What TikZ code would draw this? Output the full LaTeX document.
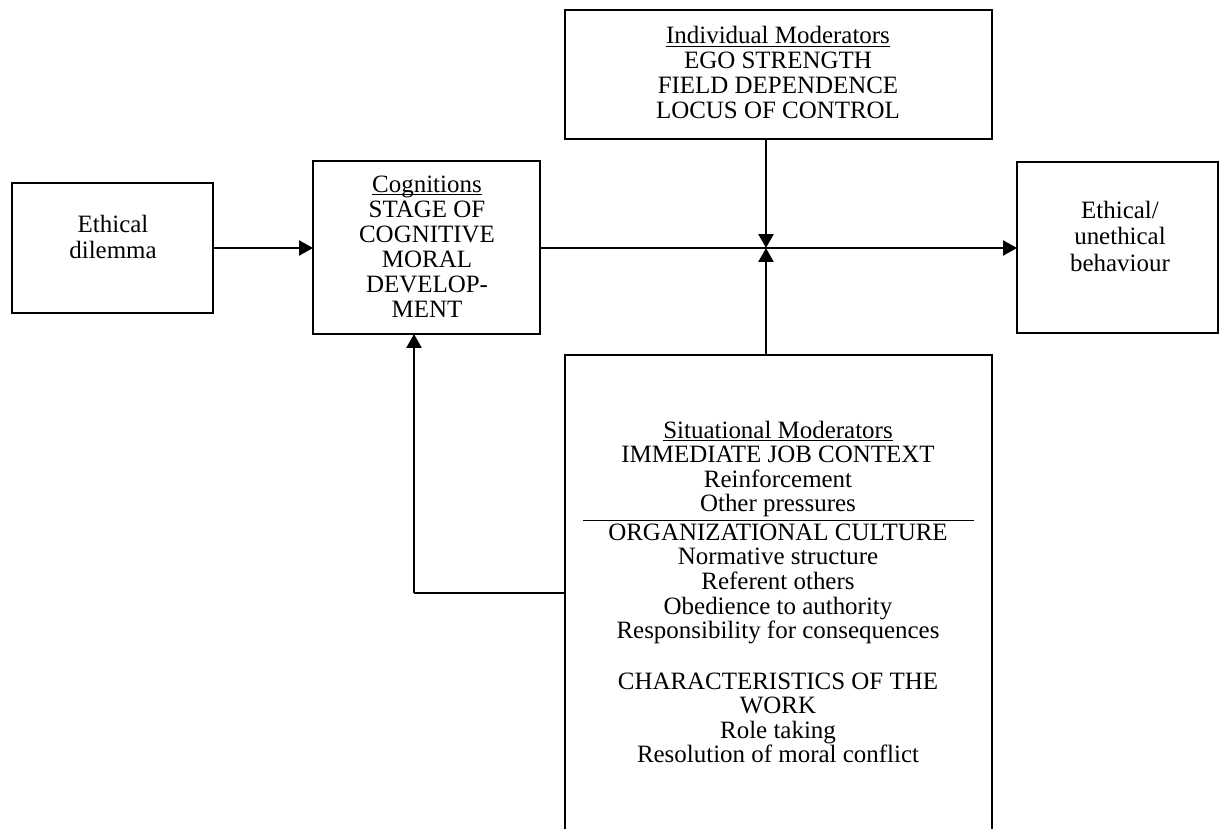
\documentclass[tikz,border=0pt]{standalone}
\usepackage{fontspec}
\setmainfont{Liberation Serif}
\usetikzlibrary{arrows.meta}
% underline set close to the baseline, as in the headings
\newcommand\headline[1]{\begingroup\setbox0\hbox{#1}\rlap{\rule[-1.6pt]{\wd0}{0.5pt}}\box0\endgroup}
\begin{document}
\begin{tikzpicture}[x=0.02cm,y=-0.02cm,
  box/.style={draw,line width=1.5pt,inner sep=0pt,outer sep=0pt},
  txt/.style={anchor=base,inner sep=0pt,font=\fontsize{14.2}{15}\selectfont},
  conn/.style={line width=1.4pt,-{Triangle[length=0.28cm,width=0.3cm]}},
  fbline/.style={line width=0.6pt},
  rule/.style={line width=0.6pt}]
\useasboundingbox (0,0) rectangle (1220,828);
\begin{scope}
\clip (0,0) rectangle (1220,828);

% boxes
\node[box,minimum width=4.02cm,minimum height=2.6cm] (dil) at (112.5,248) {};
\node[box,minimum width=4.54cm,minimum height=3.46cm] (cog) at (426.5,247.5) {};
\node[box,minimum width=8.54cm,minimum height=2.58cm] (ind) at (778.5,74.5) {};
\node[box,minimum width=4.02cm,minimum height=3.42cm] (beh) at (1117.5,247.5) {};
\node[box,minimum width=8.54cm,minimum height=11cm] (sit) at (778.5,630) {};

% texts
\foreach \ln [count=\i from 0] in {Ethical,dilemma}
  \node[txt] (dil-\i) at (113,232+26*\i) {\ln};
\foreach \ln [count=\i from 0] in {{\headline{Cognitions}},STAGE OF,COGNITIVE,MORAL,DEVELOP-,MENT}
  \node[txt] (cog-\i) at (427,192+25*\i) {\ln};
\foreach \ln [count=\i from 0] in {{\headline{Individual Moderators}},EGO STRENGTH,FIELD DEPENDENCE,LOCUS OF CONTROL}
  \node[txt] (ind-\i) at (778,44+24.7*\i) {\ln};
\foreach \ln [count=\i from 0] in {Ethical/,unethical,behaviour}
  \node[txt] (beh-\i) at (1120,218+26.5*\i) {\ln};
\foreach \ln [count=\i from 0] in {{\headline{Situational Moderators}},IMMEDIATE JOB CONTEXT,Reinforcement,Other pressures}
  \node[txt] (sita-\i) at (778,438+24.6*\i) {\ln};
\draw[rule] (583,520.5) -- (974,520.5);
\foreach \ln [count=\i from 0] in {ORGANIZATIONAL CULTURE,Normative structure,Referent others,Obedience to authority,Responsibility for consequences}
  \node[txt] (sitb-\i) at (778,540+24.7*\i) {\ln};
\foreach \ln [count=\i from 0] in {CHARACTERISTICS OF THE,WORK,Role taking,Resolution of moral conflict}
  \node[txt] (sitc-\i) at (778,689+24.6*\i) {\ln};

% connectors
\coordinate (j) at (766,248);
\coordinate (fb) at (414,593);
\draw[conn] (dil.east) -- (dil.east -| cog.west);
\draw[conn] (cog.east |- j) -- (beh.west |- j);
\draw[conn] (ind.south -| j) -- (j);
\draw[conn] (sit.north -| j) -- (j);
\draw[fbline] (sit.west |- fb) -- (fb);
\draw[conn] (fb) -- (fb |- cog.south);
\end{scope}
\end{tikzpicture}
\end{document}
